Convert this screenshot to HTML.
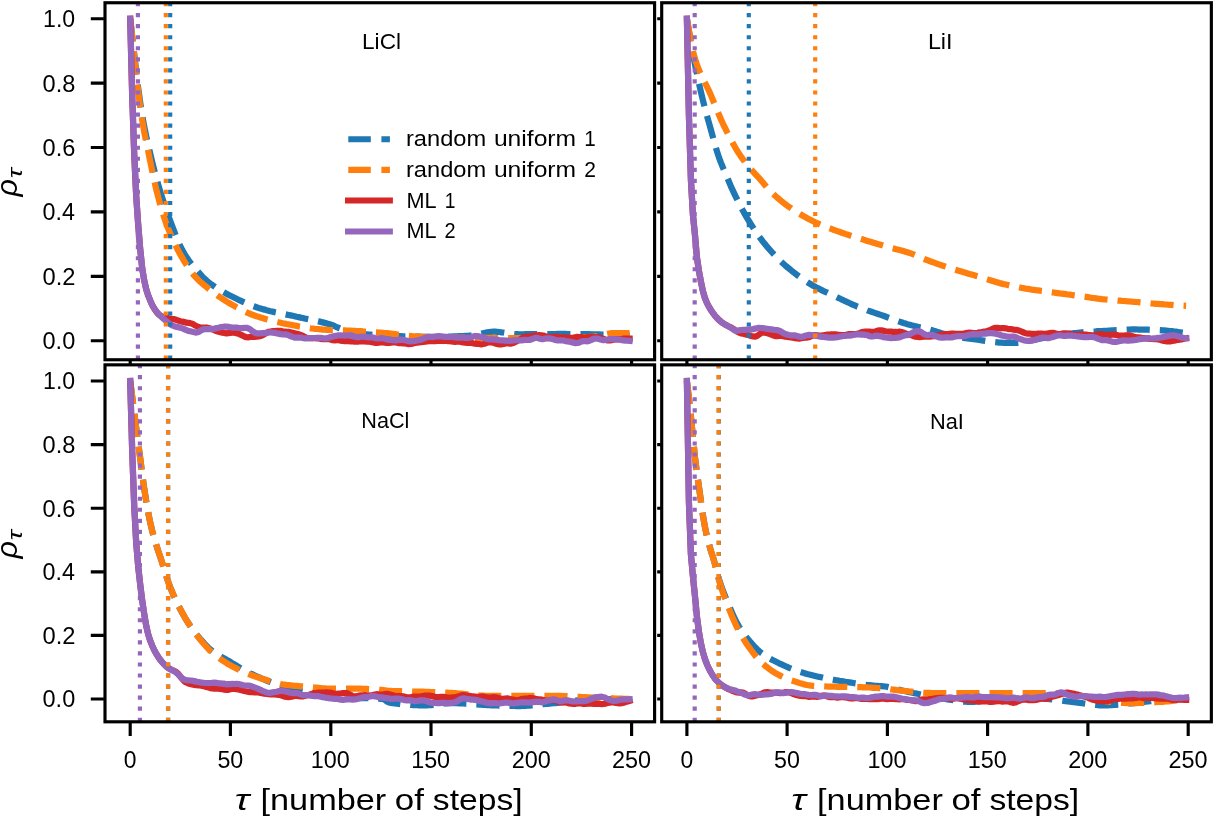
<!DOCTYPE html>
<html><head><meta charset="utf-8"><title>autocorrelation</title>
<style>html,body{margin:0;padding:0;background:#fff}svg{display:block}text{font-family:"Liberation Sans",sans-serif;fill:#000}</style></head><body>
<svg width="1214" height="817" viewBox="0 0 1214 817">
<rect x="0" y="0" width="1214" height="817" fill="#fff"/>
<defs>
<clipPath id="ctl"><rect x="105.0" y="2.75" width="549.6" height="357.0"/></clipPath>
<clipPath id="ctr"><rect x="661.7" y="2.75" width="549.6499999999999" height="357.0"/></clipPath>
<clipPath id="cbl"><rect x="105.0" y="364.85" width="549.6" height="356.94999999999993"/></clipPath>
<clipPath id="cbr"><rect x="661.7" y="364.85" width="549.6499999999999" height="356.94999999999993"/></clipPath>
</defs>
<g clip-path="url(#ctl)" fill="none">
<polyline points="130.2,18.7 132.2,36.5 134.2,53.9 136.2,71.4 138.2,88.1 140.2,102.5 142.2,115.3 144.2,126.5 146.2,136.1 148.2,144.9 150.2,153.5 152.2,161.9 154.2,169.9 156.2,177.5 158.2,184.6 160.2,191.3 162.2,197.7 164.3,203.8 166.3,209.8 168.3,215.6 170.3,221.0 172.3,226.3 174.3,231.6 176.3,236.7 178.3,241.6 180.3,246.1 182.3,250.1 184.3,253.6 186.3,256.8 188.3,259.8 190.3,262.5 192.3,265.1 194.3,267.5 196.3,269.9 198.4,272.2 200.4,274.4 202.4,276.6 204.4,278.6 206.4,280.4 208.4,282.1 210.4,283.7 212.4,285.1 214.4,286.5 216.4,287.9 218.4,289.1 220.4,290.4 222.4,291.5 224.4,292.6 226.4,293.7 228.4,294.8 230.4,295.8 232.5,296.8 234.5,297.8 236.5,298.8 238.5,299.8 240.5,300.7 242.5,301.6 244.5,302.5 246.5,303.4 248.5,304.2 250.5,305.0 252.5,305.8 254.5,306.5 256.5,307.2 258.5,307.9 260.5,308.5 262.5,309.1 264.6,309.6 266.6,310.2 268.6,310.7 270.6,311.2 272.6,311.6 274.6,312.1 276.6,312.5 278.6,313.0 280.6,313.4 282.6,313.8 284.6,314.2 286.6,314.6 288.6,315.0 290.6,315.4 292.6,315.8 294.6,316.2 296.6,316.7 298.7,317.1 300.7,317.6 302.7,318.0 304.7,318.5 306.7,318.9 308.7,319.3 310.7,319.7 312.7,320.1 314.7,320.5 316.7,321.0 318.7,321.4 320.7,321.9 322.7,322.4 324.7,322.9 326.7,323.4 328.7,324.0 330.8,324.6 332.8,325.3 334.8,326.2 336.8,327.2 338.8,328.0 340.8,328.8 342.8,329.4 344.8,330.0 346.8,330.6 348.8,331.2 350.8,331.7 352.8,332.2 354.8,332.6 356.8,333.0 358.8,333.3 360.8,333.6 362.8,333.8 364.9,334.1 366.9,334.3 368.9,334.5 370.9,334.6 372.9,334.8 374.9,335.0 376.9,335.1 378.9,335.3 380.9,335.4 382.9,335.5 384.9,335.6 386.9,335.7 388.9,335.8 390.9,335.9 392.9,335.9 394.9,336.0 396.9,336.1 399.0,336.2 401.0,336.2 403.0,336.3 405.0,336.4 407.0,336.4 409.0,336.5 411.0,336.5 413.0,336.6 415.0,336.6 417.0,336.7 419.0,336.7 421.0,336.8 423.0,336.8 425.0,336.8 427.0,336.8 429.0,336.8 431.0,336.8 433.1,336.8 435.1,336.8 437.1,336.8 439.1,336.8 441.1,336.7 443.1,336.7 445.1,336.7 447.1,336.6 449.1,336.5 451.1,336.5 453.1,336.4 455.1,336.3 457.1,336.3 459.1,336.2 461.1,336.1 463.1,336.0 465.2,335.9 467.2,335.8 469.2,335.7 471.2,335.5 473.2,335.4 475.2,335.1 477.2,334.7 479.2,334.2 481.2,333.7 483.2,333.2 485.2,332.7 487.2,332.3 489.2,332.0 491.2,331.8 493.2,331.7 495.2,331.7 497.2,331.8 499.3,332.0 501.3,332.3 503.3,332.5 505.3,332.8 507.3,333.1 509.3,333.4 511.3,333.7 513.3,333.9 515.3,334.1 517.3,334.2 519.3,334.3 521.3,334.3 523.3,334.3 525.3,334.2 527.3,334.2 529.3,334.2 531.3,334.2 533.4,334.2 535.4,334.2 537.4,334.1 539.4,334.1 541.4,334.1 543.4,334.1 545.4,334.0 547.4,334.0 549.4,334.0 551.4,334.0 553.4,334.0 555.4,334.0 557.4,333.9 559.4,333.9 561.4,333.9 563.4,333.9 565.5,333.9 567.5,334.0 569.5,334.0 571.5,334.0 573.5,334.0 575.5,334.0 577.5,334.0 579.5,334.1 581.5,334.1 583.5,334.1 585.5,334.2 587.5,334.2 589.5,334.2 591.5,334.3 593.5,334.3 595.5,334.3 597.5,334.4 599.6,334.4 601.6,334.5 603.6,334.6 605.6,334.6 607.6,334.7 609.6,334.8 611.6,334.9 613.6,334.9 615.6,335.0 617.6,335.1 619.6,335.2 621.6,335.3 623.6,335.4 625.6,335.5 627.6,335.6 629.6,335.8" stroke="#1f77b4" stroke-width="6.25" stroke-dasharray="23.125 10" stroke-linejoin="round"/>
<polyline points="130.2,18.7 132.2,37.3 134.2,55.6 136.2,74.1 138.2,91.8 140.2,106.8 142.2,120.1 144.2,131.8 146.2,142.0 148.2,151.4 150.2,161.1 152.2,170.9 154.2,180.4 156.2,189.2 158.2,197.1 160.2,204.6 162.2,211.6 164.3,218.0 166.3,223.7 168.3,228.9 170.3,233.8 172.3,238.4 174.3,242.7 176.3,246.8 178.3,250.7 180.3,254.4 182.3,257.9 184.3,261.3 186.3,264.5 188.3,267.6 190.3,270.5 192.3,273.2 194.3,275.7 196.3,277.9 198.4,280.0 200.4,281.9 202.4,283.6 204.4,285.3 206.4,286.9 208.4,288.5 210.4,290.1 212.4,291.7 214.4,293.2 216.4,294.7 218.4,296.1 220.4,297.5 222.4,298.8 224.4,300.1 226.4,301.4 228.4,302.6 230.4,303.8 232.5,304.9 234.5,306.1 236.5,307.2 238.5,308.3 240.5,309.4 242.5,310.4 244.5,311.4 246.5,312.3 248.5,313.2 250.5,314.0 252.5,314.8 254.5,315.5 256.5,316.2 258.5,316.8 260.5,317.5 262.5,318.1 264.6,318.7 266.6,319.3 268.6,319.8 270.6,320.3 272.6,320.9 274.6,321.4 276.6,321.8 278.6,322.3 280.6,322.7 282.6,323.2 284.6,323.6 286.6,324.0 288.6,324.3 290.6,324.7 292.6,325.1 294.6,325.5 296.6,325.9 298.7,326.3 300.7,326.6 302.7,327.0 304.7,327.3 306.7,327.6 308.7,328.0 310.7,328.3 312.7,328.5 314.7,328.8 316.7,329.0 318.7,329.2 320.7,329.4 322.7,329.6 324.7,329.7 326.7,329.8 328.7,329.9 330.8,330.0 332.8,330.0 334.8,330.1 336.8,330.1 338.8,330.2 340.8,330.3 342.8,330.3 344.8,330.4 346.8,330.5 348.8,330.6 350.8,330.7 352.8,330.8 354.8,330.9 356.8,331.0 358.8,331.1 360.8,331.2 362.8,331.4 364.9,331.5 366.9,331.6 368.9,331.8 370.9,331.9 372.9,332.0 374.9,332.2 376.9,332.3 378.9,332.5 380.9,332.6 382.9,332.8 384.9,333.0 386.9,333.2 388.9,333.4 390.9,333.6 392.9,333.8 394.9,334.1 396.9,334.4 399.0,334.6 401.0,334.9 403.0,335.2 405.0,335.4 407.0,335.7 409.0,335.9 411.0,336.1 413.0,336.3 415.0,336.4 417.0,336.5 419.0,336.6 421.0,336.7 423.0,336.8 425.0,336.8 427.0,336.9 429.0,337.0 431.0,337.0 433.1,337.1 435.1,337.2 437.1,337.2 439.1,337.3 441.1,337.3 443.1,337.3 445.1,337.4 447.1,337.4 449.1,337.5 451.1,337.5 453.1,337.5 455.1,337.5 457.1,337.6 459.1,337.6 461.1,337.6 463.1,337.6 465.2,337.7 467.2,337.7 469.2,337.7 471.2,337.7 473.2,337.8 475.2,337.8 477.2,337.8 479.2,337.8 481.2,337.8 483.2,337.9 485.2,337.9 487.2,337.9 489.2,337.9 491.2,337.9 493.2,338.0 495.2,338.0 497.2,338.0 499.3,338.0 501.3,338.0 503.3,338.0 505.3,338.0 507.3,338.1 509.3,338.1 511.3,338.1 513.3,338.1 515.3,338.1 517.3,338.1 519.3,338.1 521.3,338.1 523.3,338.1 525.3,338.1 527.3,338.1 529.3,338.1 531.3,338.1 533.4,338.1 535.4,338.1 537.4,338.1 539.4,338.1 541.4,338.1 543.4,338.1 545.4,338.1 547.4,338.0 549.4,338.0 551.4,338.0 553.4,337.9 555.4,337.9 557.4,337.9 559.4,337.8 561.4,337.8 563.4,337.8 565.5,337.7 567.5,337.7 569.5,337.6 571.5,337.5 573.5,337.5 575.5,337.4 577.5,337.4 579.5,337.3 581.5,337.2 583.5,337.2 585.5,337.1 587.5,337.0 589.5,336.9 591.5,336.8 593.5,336.7 595.5,336.4 597.5,336.1 599.6,335.7 601.6,335.2 603.6,334.8 605.6,334.3 607.6,333.9 609.6,333.5 611.6,333.2 613.6,333.0 615.6,333.0 617.6,333.0 619.6,333.0 621.6,333.0 623.6,333.0 625.6,333.0 627.6,333.0 629.6,333.0" stroke="#ff7f0e" stroke-width="6.25" stroke-dasharray="23.125 10" stroke-linejoin="round"/>
<polyline points="130.2,18.7 132.2,96.0 134.2,153.9 136.2,195.8 138.2,224.8 140.2,248.9 142.2,268.2 144.2,280.4 146.2,289.2 148.2,295.5 150.2,300.4 152.2,304.9 154.2,308.5 156.2,311.5 158.2,314.0 160.2,315.6 162.2,316.4 164.3,317.0 166.3,317.5 168.3,318.2 170.3,318.6 172.3,319.0 174.3,319.2 176.3,319.8 178.3,320.6 180.3,321.2 182.3,321.6 184.3,322.1 186.3,322.7 188.3,322.9 190.3,323.2 192.3,323.7 194.3,324.9 196.3,326.0 198.4,327.0 200.4,327.6 202.4,327.6 204.4,327.6 206.4,327.5 208.4,328.0 210.4,328.7 212.4,329.4 214.4,330.2 216.4,331.1 218.4,331.7 220.4,332.1 222.4,332.6 224.4,333.0 226.4,333.4 228.4,333.2 230.4,332.8 232.5,332.6 234.5,332.6 236.5,333.1 238.5,333.6 240.5,334.7 242.5,335.5 244.5,336.6 246.5,337.1 248.5,337.3 250.5,336.9 252.5,336.7 254.5,336.8 256.5,336.7 258.5,336.5 260.5,336.0 262.5,335.3 264.6,334.1 266.6,332.9 268.6,331.9 270.6,331.5 272.6,331.2 274.6,331.2 276.6,330.8 278.6,330.9 280.6,330.9 282.6,331.3 284.6,331.5 286.6,331.9 288.6,331.9 290.6,332.3 292.6,332.7 294.6,333.3 296.6,333.8 298.7,334.3 300.7,334.9 302.7,335.8 304.7,336.9 306.7,337.8 308.7,338.0 310.7,338.0 312.7,338.0 314.7,338.2 316.7,338.3 318.7,338.5 320.7,338.8 322.7,339.1 324.7,339.2 326.7,339.1 328.7,339.1 330.8,339.5 332.8,340.2 334.8,340.4 336.8,340.2 338.8,340.2 340.8,340.6 342.8,341.0 344.8,341.2 346.8,341.1 348.8,341.2 350.8,341.4 352.8,341.5 354.8,341.6 356.8,341.5 358.8,341.5 360.8,341.3 362.8,341.4 364.9,341.4 366.9,341.7 368.9,341.7 370.9,342.0 372.9,342.3 374.9,342.8 376.9,342.9 378.9,342.7 380.9,342.4 382.9,342.4 384.9,342.7 386.9,343.0 388.9,342.9 390.9,342.6 392.9,342.2 394.9,342.3 396.9,342.7 399.0,343.1 401.0,343.2 403.0,343.3 405.0,343.4 407.0,343.8 409.0,344.1 411.0,344.0 413.0,343.4 415.0,343.0 417.0,342.6 419.0,342.5 421.0,342.2 423.0,342.0 425.0,341.6 427.0,341.4 429.0,341.2 431.0,341.2 433.1,341.1 435.1,341.1 437.1,340.8 439.1,340.8 441.1,340.7 443.1,341.0 445.1,340.9 447.1,341.0 449.1,341.0 451.1,341.3 453.1,341.7 455.1,341.8 457.1,341.7 459.1,341.6 461.1,341.9 463.1,342.4 465.2,342.6 467.2,342.8 469.2,342.7 471.2,342.9 473.2,343.3 475.2,343.6 477.2,343.9 479.2,344.0 481.2,344.3 483.2,344.0 485.2,343.5 487.2,342.7 489.2,342.3 491.2,342.3 493.2,342.7 495.2,343.4 497.2,344.0 499.3,344.4 501.3,344.3 503.3,344.0 505.3,343.4 507.3,343.3 509.3,343.5 511.3,343.5 513.3,343.0 515.3,342.0 517.3,340.9 519.3,339.7 521.3,338.7 523.3,337.5 525.3,336.8 527.3,336.5 529.3,336.5 531.3,336.2 533.4,335.9 535.4,335.7 537.4,335.4 539.4,335.2 541.4,335.3 543.4,335.6 545.4,336.2 547.4,336.7 549.4,337.0 551.4,337.1 553.4,336.8 555.4,336.9 557.4,336.9 559.4,337.3 561.4,337.3 563.4,337.3 565.5,337.4 567.5,337.6 569.5,337.8 571.5,337.9 573.5,337.7 575.5,337.4 577.5,336.8 579.5,337.0 581.5,337.1 583.5,337.7 585.5,337.5 587.5,337.2 589.5,336.8 591.5,336.8 593.5,337.1 595.5,337.2 597.5,337.3 599.6,337.4 601.6,338.1 603.6,338.9 605.6,339.8 607.6,340.4 609.6,340.5 611.6,340.2 613.6,339.6 615.6,339.5 617.6,339.4 619.6,339.4 621.6,339.0 623.6,338.7 625.6,338.5 627.6,338.6 629.6,338.6" stroke="#d62728" stroke-width="6.25" stroke-linecap="square" stroke-linejoin="round"/>
<polyline points="130.2,18.7 132.2,96.0 134.2,153.9 136.2,195.8 138.2,224.8 140.2,248.9 142.2,268.2 144.2,280.4 146.2,289.2 148.2,295.5 150.2,300.4 152.2,304.9 154.2,308.5 156.2,311.2 158.2,313.5 160.2,315.6 162.2,317.7 164.3,319.5 166.3,321.2 168.3,322.8 170.3,324.3 172.3,325.4 174.3,326.2 176.3,326.9 178.3,327.2 180.3,327.8 182.3,328.2 184.3,329.3 186.3,330.0 188.3,330.9 190.3,331.3 192.3,331.8 194.3,332.2 196.3,332.6 198.4,332.0 200.4,330.8 202.4,329.6 204.4,329.1 206.4,329.1 208.4,329.0 210.4,329.1 212.4,328.8 214.4,328.7 216.4,328.1 218.4,327.7 220.4,327.2 222.4,327.0 224.4,326.7 226.4,326.7 228.4,326.8 230.4,327.2 232.5,327.6 234.5,327.7 236.5,327.7 238.5,327.9 240.5,328.0 242.5,328.1 244.5,327.8 246.5,327.8 248.5,328.5 250.5,329.6 252.5,331.3 254.5,332.5 256.5,333.3 258.5,333.3 260.5,333.4 262.5,333.2 264.6,333.1 266.6,332.7 268.6,332.5 270.6,332.4 272.6,332.6 274.6,332.9 276.6,333.3 278.6,333.6 280.6,334.1 282.6,334.3 284.6,334.4 286.6,334.6 288.6,335.2 290.6,336.2 292.6,336.9 294.6,337.6 296.6,337.6 298.7,337.5 300.7,337.5 302.7,338.0 304.7,338.3 306.7,338.3 308.7,338.1 310.7,338.0 312.7,338.1 314.7,338.0 316.7,337.9 318.7,337.8 320.7,337.9 322.7,338.2 324.7,338.4 326.7,338.3 328.7,337.7 330.8,337.0 332.8,336.5 334.8,336.0 336.8,335.7 338.8,335.3 340.8,335.4 342.8,335.5 344.8,335.7 346.8,335.5 348.8,335.3 350.8,335.3 352.8,335.9 354.8,336.8 356.8,337.2 358.8,337.1 360.8,336.6 362.8,336.6 364.9,336.9 366.9,337.2 368.9,337.3 370.9,337.3 372.9,337.5 374.9,338.0 376.9,338.4 378.9,338.3 380.9,338.1 382.9,338.2 384.9,338.8 386.9,339.4 388.9,339.8 390.9,339.9 392.9,340.2 394.9,340.3 396.9,340.3 399.0,339.9 401.0,339.7 403.0,339.8 405.0,340.2 407.0,340.7 409.0,341.2 411.0,341.3 413.0,341.2 415.0,340.9 417.0,340.5 419.0,340.0 421.0,339.6 423.0,338.8 425.0,337.9 427.0,337.2 429.0,336.8 431.0,337.0 433.1,337.0 435.1,336.7 437.1,336.3 439.1,336.2 441.1,336.4 443.1,336.6 445.1,336.9 447.1,336.9 449.1,336.9 451.1,337.0 453.1,337.1 455.1,337.5 457.1,337.6 459.1,337.6 461.1,337.6 463.1,337.5 465.2,337.8 467.2,337.7 469.2,337.8 471.2,337.2 473.2,336.6 475.2,336.0 477.2,336.2 479.2,336.4 481.2,337.0 483.2,337.4 485.2,338.4 487.2,339.0 489.2,339.4 491.2,339.4 493.2,339.3 495.2,339.6 497.2,339.9 499.3,340.2 501.3,340.4 503.3,340.4 505.3,340.6 507.3,340.6 509.3,340.9 511.3,340.7 513.3,340.4 515.3,340.1 517.3,340.2 519.3,340.4 521.3,340.4 523.3,340.1 525.3,339.9 527.3,340.0 529.3,339.9 531.3,339.4 533.4,338.6 535.4,337.9 537.4,337.9 539.4,338.6 541.4,339.0 543.4,339.0 545.4,338.5 547.4,338.3 549.4,338.3 551.4,338.7 553.4,339.3 555.4,340.0 557.4,340.4 559.4,340.4 561.4,340.4 563.4,340.5 565.5,341.1 567.5,341.4 569.5,341.7 571.5,342.1 573.5,342.6 575.5,343.1 577.5,343.0 579.5,342.4 581.5,341.5 583.5,341.1 585.5,341.2 587.5,341.3 589.5,340.7 591.5,339.9 593.5,338.9 595.5,338.5 597.5,338.6 599.6,339.3 601.6,339.8 603.6,340.1 605.6,339.8 607.6,339.5 609.6,339.1 611.6,339.1 613.6,339.2 615.6,339.3 617.6,339.4 619.6,339.5 621.6,340.1 623.6,340.3 625.6,340.6 627.6,340.6 629.6,340.8" stroke="#9467bd" stroke-width="6.25" stroke-linecap="square" stroke-linejoin="round"/>
<line x1="170.2" y1="359.75" x2="170.2" y2="2.75" stroke="#1f77b4" stroke-width="4.17" stroke-dasharray="4.17 6.88"/>
<line x1="165.8" y1="359.75" x2="165.8" y2="2.75" stroke="#ff7f0e" stroke-width="4.17" stroke-dasharray="4.17 6.88"/>
<line x1="137.9" y1="359.75" x2="137.9" y2="2.75" stroke="#9467bd" stroke-width="4.17" stroke-dasharray="4.17 6.88"/>
</g>
<g clip-path="url(#ctr)" fill="none">
<polyline points="686.9,18.7 688.9,30.8 690.9,42.4 692.9,53.4 694.9,63.8 696.9,73.7 698.9,83.1 700.9,91.9 702.9,100.3 704.9,108.1 706.9,115.6 709.0,123.0 711.0,130.2 713.0,137.5 715.0,144.7 717.0,151.4 719.0,157.6 721.0,162.9 723.0,167.8 725.0,172.4 727.0,177.0 729.0,181.8 731.0,186.6 733.0,190.9 735.0,195.1 737.0,199.2 739.0,203.2 741.0,207.1 743.0,210.8 745.0,214.4 747.0,217.9 749.1,221.2 751.1,224.5 753.1,227.6 755.1,230.7 757.1,233.6 759.1,236.5 761.1,239.2 763.1,241.8 765.1,244.3 767.1,246.7 769.1,249.0 771.1,251.3 773.1,253.5 775.1,255.6 777.1,257.7 779.1,259.7 781.1,261.6 783.1,263.5 785.1,265.3 787.1,267.0 789.2,268.7 791.2,270.4 793.2,272.0 795.2,273.5 797.2,275.1 799.2,276.5 801.2,278.0 803.2,279.4 805.2,280.7 807.2,282.0 809.2,283.3 811.2,284.5 813.2,285.7 815.2,286.8 817.2,287.9 819.2,288.9 821.2,289.9 823.2,290.9 825.2,291.8 827.2,292.7 829.3,293.7 831.3,294.6 833.3,295.5 835.3,296.4 837.3,297.4 839.3,298.3 841.3,299.3 843.3,300.2 845.3,301.2 847.3,302.1 849.3,303.0 851.3,304.0 853.3,304.8 855.3,305.7 857.3,306.6 859.3,307.4 861.3,308.2 863.3,308.9 865.3,309.6 867.3,310.4 869.4,311.1 871.4,311.7 873.4,312.4 875.4,313.1 877.4,313.8 879.4,314.4 881.4,315.1 883.4,315.8 885.4,316.5 887.4,317.3 889.4,318.0 891.4,318.7 893.4,319.5 895.4,320.2 897.4,320.9 899.4,321.6 901.4,322.3 903.4,323.0 905.4,323.6 907.4,324.2 909.5,324.7 911.5,325.3 913.5,325.7 915.5,326.2 917.5,326.7 919.5,327.2 921.5,327.6 923.5,328.1 925.5,328.5 927.5,329.0 929.5,329.5 931.5,330.1 933.5,330.7 935.5,331.3 937.5,331.9 939.5,332.5 941.5,333.2 943.5,333.8 945.5,334.4 947.5,334.9 949.6,335.4 951.6,335.9 953.6,336.3 955.6,336.6 957.6,337.0 959.6,337.3 961.6,337.6 963.6,337.9 965.6,338.2 967.6,338.4 969.6,338.7 971.6,339.0 973.6,339.2 975.6,339.5 977.6,339.7 979.6,340.0 981.6,340.3 983.6,340.6 985.6,340.9 987.6,341.2 989.7,341.5 991.7,341.8 993.7,342.0 995.7,342.2 997.7,342.4 999.7,342.6 1001.7,342.7 1003.7,342.8 1005.7,342.8 1007.7,342.9 1009.7,342.9 1011.7,342.9 1013.7,342.9 1015.7,343.0 1017.7,342.9 1019.7,342.7 1021.7,342.5 1023.7,342.1 1025.7,341.7 1027.8,341.2 1029.8,340.7 1031.8,340.3 1033.8,339.8 1035.8,339.5 1037.8,339.1 1039.8,338.7 1041.8,338.3 1043.8,337.9 1045.8,337.5 1047.8,337.2 1049.8,336.8 1051.8,336.4 1053.8,336.1 1055.8,335.8 1057.8,335.5 1059.8,335.2 1061.8,334.9 1063.8,334.6 1065.8,334.3 1067.8,334.0 1069.9,333.7 1071.9,333.5 1073.9,333.2 1075.9,333.0 1077.9,332.8 1079.9,332.6 1081.9,332.4 1083.9,332.2 1085.9,332.1 1087.9,331.9 1089.9,331.8 1091.9,331.6 1093.9,331.5 1095.9,331.4 1097.9,331.2 1099.9,331.1 1101.9,331.0 1103.9,330.9 1105.9,330.8 1107.9,330.7 1110.0,330.5 1112.0,330.4 1114.0,330.3 1116.0,330.1 1118.0,330.0 1120.0,329.9 1122.0,329.8 1124.0,329.7 1126.0,329.6 1128.0,329.5 1130.0,329.5 1132.0,329.4 1134.0,329.4 1136.0,329.4 1138.0,329.5 1140.0,329.5 1142.0,329.5 1144.0,329.6 1146.0,329.6 1148.0,329.7 1150.1,329.8 1152.1,329.8 1154.1,329.9 1156.1,330.0 1158.1,330.0 1160.1,330.1 1162.1,330.3 1164.1,330.4 1166.1,330.6 1168.1,330.8 1170.1,331.0 1172.1,331.2 1174.1,331.5 1176.1,331.7 1178.1,332.0 1180.1,332.3 1182.1,332.6 1184.1,332.9 1186.1,333.3" stroke="#1f77b4" stroke-width="6.25" stroke-dasharray="23.125 10" stroke-linejoin="round"/>
<polyline points="686.9,18.7 688.9,30.5 690.9,41.5 692.9,51.1 694.9,58.6 696.9,64.6 698.9,69.8 700.9,74.4 702.9,78.6 704.9,82.6 706.9,86.6 709.0,90.8 711.0,95.4 713.0,100.3 715.0,105.2 717.0,110.1 719.0,114.8 721.0,119.4 723.0,123.8 725.0,127.9 727.0,132.0 729.0,136.0 731.0,139.8 733.0,143.5 735.0,147.1 737.0,150.5 739.0,153.6 741.0,156.6 743.0,159.3 745.0,162.0 747.0,164.5 749.1,166.9 751.1,169.3 753.1,171.7 755.1,173.9 757.1,176.0 759.1,178.2 761.1,180.4 763.1,182.8 765.1,185.3 767.1,187.7 769.1,189.9 771.1,191.9 773.1,193.8 775.1,195.7 777.1,197.5 779.1,199.2 781.1,200.9 783.1,202.5 785.1,204.0 787.1,205.6 789.2,207.0 791.2,208.4 793.2,209.8 795.2,211.1 797.2,212.4 799.2,213.6 801.2,214.8 803.2,216.0 805.2,217.1 807.2,218.2 809.2,219.3 811.2,220.3 813.2,221.3 815.2,222.3 817.2,223.2 819.2,224.1 821.2,225.0 823.2,225.8 825.2,226.6 827.2,227.4 829.3,228.2 831.3,228.9 833.3,229.7 835.3,230.4 837.3,231.1 839.3,231.8 841.3,232.5 843.3,233.2 845.3,233.9 847.3,234.6 849.3,235.2 851.3,235.9 853.3,236.5 855.3,237.1 857.3,237.8 859.3,238.4 861.3,239.0 863.3,239.6 865.3,240.3 867.3,240.9 869.4,241.5 871.4,242.1 873.4,242.7 875.4,243.3 877.4,243.9 879.4,244.5 881.4,245.1 883.4,245.7 885.4,246.3 887.4,246.9 889.4,247.4 891.4,247.9 893.4,248.4 895.4,249.0 897.4,249.5 899.4,250.0 901.4,250.5 903.4,251.1 905.4,251.7 907.4,252.3 909.5,252.9 911.5,253.6 913.5,254.4 915.5,255.3 917.5,256.1 919.5,257.0 921.5,257.9 923.5,258.7 925.5,259.5 927.5,260.2 929.5,261.0 931.5,261.7 933.5,262.4 935.5,263.2 937.5,263.9 939.5,264.6 941.5,265.3 943.5,265.9 945.5,266.6 947.5,267.3 949.6,267.9 951.6,268.6 953.6,269.2 955.6,269.8 957.6,270.4 959.6,271.0 961.6,271.6 963.6,272.2 965.6,272.8 967.6,273.4 969.6,274.0 971.6,274.5 973.6,275.1 975.6,275.7 977.6,276.3 979.6,276.9 981.6,277.5 983.6,278.2 985.6,278.8 987.6,279.4 989.7,280.1 991.7,280.7 993.7,281.3 995.7,281.9 997.7,282.5 999.7,283.1 1001.7,283.6 1003.7,284.1 1005.7,284.5 1007.7,285.0 1009.7,285.5 1011.7,285.9 1013.7,286.3 1015.7,286.7 1017.7,287.1 1019.7,287.5 1021.7,287.9 1023.7,288.2 1025.7,288.6 1027.8,288.9 1029.8,289.2 1031.8,289.6 1033.8,289.9 1035.8,290.2 1037.8,290.4 1039.8,290.7 1041.8,291.0 1043.8,291.2 1045.8,291.5 1047.8,291.7 1049.8,292.0 1051.8,292.3 1053.8,292.5 1055.8,292.8 1057.8,293.1 1059.8,293.4 1061.8,293.6 1063.8,293.9 1065.8,294.2 1067.8,294.5 1069.9,294.7 1071.9,295.0 1073.9,295.3 1075.9,295.6 1077.9,295.8 1079.9,296.1 1081.9,296.4 1083.9,296.6 1085.9,296.9 1087.9,297.2 1089.9,297.5 1091.9,297.8 1093.9,298.0 1095.9,298.3 1097.9,298.6 1099.9,298.8 1101.9,299.1 1103.9,299.3 1105.9,299.5 1107.9,299.7 1110.0,299.9 1112.0,300.1 1114.0,300.3 1116.0,300.4 1118.0,300.6 1120.0,300.7 1122.0,300.9 1124.0,301.0 1126.0,301.2 1128.0,301.3 1130.0,301.5 1132.0,301.7 1134.0,301.8 1136.0,302.0 1138.0,302.2 1140.0,302.4 1142.0,302.6 1144.0,302.7 1146.0,302.9 1148.0,303.1 1150.1,303.3 1152.1,303.5 1154.1,303.6 1156.1,303.8 1158.1,303.9 1160.1,304.1 1162.1,304.2 1164.1,304.4 1166.1,304.5 1168.1,304.7 1170.1,304.8 1172.1,304.9 1174.1,305.1 1176.1,305.2 1178.1,305.3 1180.1,305.5 1182.1,305.6 1184.1,305.7 1186.1,305.8" stroke="#ff7f0e" stroke-width="6.25" stroke-dasharray="23.125 10" stroke-linejoin="round"/>
<polyline points="686.9,18.7 688.9,115.3 690.9,179.5 692.9,214.4 694.9,234.4 696.9,257.3 698.9,270.8 700.9,281.6 702.9,291.2 704.9,298.0 706.9,302.9 709.0,306.9 711.0,310.2 713.0,313.1 715.0,315.7 717.0,318.0 719.0,320.0 721.0,321.7 723.0,323.2 725.0,324.5 727.0,325.5 729.0,326.5 731.0,327.4 733.0,328.6 735.0,330.0 737.0,331.5 739.0,332.6 741.0,333.3 743.0,333.6 745.0,334.2 747.0,334.8 749.1,335.3 751.1,336.0 753.1,336.3 755.1,336.7 757.1,335.8 759.1,334.5 761.1,333.0 763.1,332.4 765.1,332.7 767.1,333.1 769.1,333.8 771.1,334.4 773.1,335.4 775.1,336.1 777.1,336.2 779.1,335.9 781.1,335.8 783.1,336.2 785.1,336.7 787.1,336.8 789.2,337.1 791.2,337.4 793.2,337.8 795.2,338.2 797.2,338.5 799.2,338.6 801.2,338.2 803.2,337.8 805.2,337.5 807.2,337.5 809.2,337.1 811.2,336.2 813.2,335.3 815.2,335.1 817.2,335.3 819.2,335.6 821.2,335.6 823.2,335.3 825.2,335.0 827.2,334.7 829.3,334.6 831.3,334.4 833.3,334.3 835.3,334.3 837.3,334.6 839.3,334.8 841.3,335.1 843.3,335.2 845.3,335.1 847.3,334.6 849.3,334.1 851.3,334.0 853.3,334.2 855.3,334.1 857.3,333.8 859.3,333.1 861.3,332.3 863.3,331.8 865.3,331.7 867.3,331.7 869.4,331.7 871.4,331.8 873.4,331.8 875.4,331.5 877.4,330.8 879.4,330.3 881.4,330.4 883.4,330.9 885.4,331.4 887.4,331.5 889.4,331.5 891.4,331.6 893.4,332.0 895.4,331.9 897.4,332.0 899.4,331.7 901.4,332.0 903.4,332.5 905.4,333.5 907.4,334.2 909.5,334.7 911.5,335.2 913.5,336.0 915.5,336.7 917.5,337.0 919.5,337.1 921.5,336.9 923.5,336.7 925.5,336.5 927.5,336.6 929.5,336.6 931.5,336.4 933.5,336.1 935.5,335.9 937.5,335.6 939.5,335.1 941.5,334.6 943.5,334.3 945.5,334.1 947.5,334.1 949.6,333.9 951.6,333.7 953.6,333.7 955.6,333.8 957.6,333.9 959.6,333.9 961.6,333.8 963.6,333.7 965.6,333.2 967.6,332.9 969.6,332.7 971.6,332.9 973.6,333.1 975.6,333.1 977.6,332.8 979.6,332.4 981.6,332.1 983.6,331.7 985.6,331.5 987.6,330.9 989.7,330.4 991.7,329.4 993.7,328.4 995.7,327.9 997.7,327.9 999.7,328.3 1001.7,328.2 1003.7,328.2 1005.7,328.4 1007.7,328.8 1009.7,329.1 1011.7,329.2 1013.7,329.6 1015.7,329.9 1017.7,330.2 1019.7,330.8 1021.7,331.6 1023.7,332.6 1025.7,333.2 1027.8,333.7 1029.8,333.7 1031.8,333.8 1033.8,333.8 1035.8,334.0 1037.8,333.7 1039.8,333.6 1041.8,333.6 1043.8,333.8 1045.8,333.7 1047.8,333.5 1049.8,333.1 1051.8,332.9 1053.8,332.9 1055.8,333.5 1057.8,334.0 1059.8,334.2 1061.8,333.7 1063.8,333.4 1065.8,333.3 1067.8,333.6 1069.9,333.9 1071.9,334.4 1073.9,334.7 1075.9,334.9 1077.9,334.7 1079.9,334.7 1081.9,334.3 1083.9,334.5 1085.9,334.5 1087.9,335.0 1089.9,335.1 1091.9,335.4 1093.9,335.3 1095.9,335.0 1097.9,334.4 1099.9,334.2 1101.9,334.3 1103.9,334.7 1105.9,335.0 1107.9,335.1 1110.0,334.9 1112.0,334.7 1114.0,334.7 1116.0,334.9 1118.0,335.3 1120.0,335.5 1122.0,335.5 1124.0,335.5 1126.0,335.3 1128.0,335.3 1130.0,335.4 1132.0,336.1 1134.0,336.8 1136.0,337.3 1138.0,337.4 1140.0,337.6 1142.0,337.9 1144.0,338.1 1146.0,338.4 1148.0,338.6 1150.1,338.9 1152.1,339.0 1154.1,339.2 1156.1,339.2 1158.1,339.4 1160.1,339.8 1162.1,340.4 1164.1,340.9 1166.1,341.3 1168.1,341.4 1170.1,341.4 1172.1,340.8 1174.1,340.6 1176.1,340.1 1178.1,340.0 1180.1,339.4 1182.1,339.3 1184.1,338.8 1186.1,338.4" stroke="#d62728" stroke-width="6.25" stroke-linecap="square" stroke-linejoin="round"/>
<polyline points="686.9,18.7 688.9,115.3 690.9,179.5 692.9,214.4 694.9,234.4 696.9,257.3 698.9,270.8 700.9,281.6 702.9,291.2 704.9,298.0 706.9,302.9 709.0,306.9 711.0,310.2 713.0,313.1 715.0,315.7 717.0,318.0 719.0,320.0 721.0,321.7 723.0,323.2 725.0,324.5 727.0,325.6 729.0,326.7 731.0,327.9 733.0,329.3 735.0,330.5 737.0,330.8 739.0,330.4 741.0,330.0 743.0,329.9 745.0,329.9 747.0,329.6 749.1,329.6 751.1,329.3 753.1,329.1 755.1,328.6 757.1,328.2 759.1,327.9 761.1,328.0 763.1,328.2 765.1,328.5 767.1,328.8 769.1,329.1 771.1,329.4 773.1,329.7 775.1,330.0 777.1,330.1 779.1,330.7 781.1,331.6 783.1,333.0 785.1,333.8 787.1,334.6 789.2,335.0 791.2,335.3 793.2,335.3 795.2,335.4 797.2,336.1 799.2,336.7 801.2,337.0 803.2,336.5 805.2,335.8 807.2,335.3 809.2,334.9 811.2,335.1 813.2,335.1 815.2,335.5 817.2,336.0 819.2,336.4 821.2,336.8 823.2,336.8 825.2,337.2 827.2,337.4 829.3,337.6 831.3,337.6 833.3,337.7 835.3,337.5 837.3,337.2 839.3,336.7 841.3,336.4 843.3,336.0 845.3,335.8 847.3,335.7 849.3,335.7 851.3,335.4 853.3,335.0 855.3,334.5 857.3,334.4 859.3,334.4 861.3,334.7 863.3,334.6 865.3,334.8 867.3,335.2 869.4,336.1 871.4,336.5 873.4,336.3 875.4,335.9 877.4,335.7 879.4,336.1 881.4,336.5 883.4,337.1 885.4,337.5 887.4,337.7 889.4,337.9 891.4,338.1 893.4,338.0 895.4,337.8 897.4,337.6 899.4,337.4 901.4,336.6 903.4,335.9 905.4,335.2 907.4,335.1 909.5,334.3 911.5,333.3 913.5,332.2 915.5,331.5 917.5,331.1 919.5,331.3 921.5,332.3 923.5,333.7 925.5,334.8 927.5,335.2 929.5,334.9 931.5,334.9 933.5,335.4 935.5,336.2 937.5,336.8 939.5,337.4 941.5,337.7 943.5,337.6 945.5,337.4 947.5,337.4 949.6,337.5 951.6,337.4 953.6,336.9 955.6,336.5 957.6,336.1 959.6,336.2 961.6,336.2 963.6,336.1 965.6,335.8 967.6,335.2 969.6,334.7 971.6,334.3 973.6,334.1 975.6,334.3 977.6,334.3 979.6,334.1 981.6,333.9 983.6,333.7 985.6,333.6 987.6,333.1 989.7,333.0 991.7,333.0 993.7,333.4 995.7,333.7 997.7,334.3 999.7,334.8 1001.7,335.5 1003.7,335.8 1005.7,336.2 1007.7,336.7 1009.7,336.8 1011.7,336.7 1013.7,336.6 1015.7,337.2 1017.7,338.1 1019.7,339.0 1021.7,339.6 1023.7,340.2 1025.7,340.7 1027.8,340.8 1029.8,340.8 1031.8,340.7 1033.8,340.1 1035.8,339.6 1037.8,338.9 1039.8,338.3 1041.8,337.7 1043.8,337.7 1045.8,337.9 1047.8,338.1 1049.8,337.8 1051.8,337.3 1053.8,336.7 1055.8,336.1 1057.8,335.5 1059.8,335.4 1061.8,335.5 1063.8,335.9 1065.8,335.8 1067.8,335.5 1069.9,335.5 1071.9,335.6 1073.9,336.0 1075.9,336.2 1077.9,336.3 1079.9,336.6 1081.9,336.8 1083.9,337.2 1085.9,337.2 1087.9,337.1 1089.9,336.9 1091.9,336.9 1093.9,337.3 1095.9,337.8 1097.9,338.7 1099.9,339.3 1101.9,340.1 1103.9,340.1 1105.9,340.2 1107.9,340.4 1110.0,341.0 1112.0,341.6 1114.0,341.9 1116.0,341.9 1118.0,341.5 1120.0,341.0 1122.0,340.6 1124.0,340.4 1126.0,340.5 1128.0,340.5 1130.0,340.5 1132.0,340.3 1134.0,340.1 1136.0,339.9 1138.0,339.5 1140.0,339.2 1142.0,338.9 1144.0,338.6 1146.0,338.3 1148.0,338.2 1150.1,338.4 1152.1,338.5 1154.1,338.3 1156.1,338.1 1158.1,337.8 1160.1,337.6 1162.1,337.3 1164.1,336.9 1166.1,336.4 1168.1,336.0 1170.1,335.5 1172.1,335.4 1174.1,335.4 1176.1,335.8 1178.1,336.2 1180.1,337.0 1182.1,337.6 1184.1,338.0 1186.1,338.2" stroke="#9467bd" stroke-width="6.25" stroke-linecap="square" stroke-linejoin="round"/>
<line x1="748.8" y1="359.75" x2="748.8" y2="2.75" stroke="#1f77b4" stroke-width="4.17" stroke-dasharray="4.17 6.88"/>
<line x1="815.2" y1="359.75" x2="815.2" y2="2.75" stroke="#ff7f0e" stroke-width="4.17" stroke-dasharray="4.17 6.88"/>
<line x1="694.7" y1="359.75" x2="694.7" y2="2.75" stroke="#9467bd" stroke-width="4.17" stroke-dasharray="4.17 6.88"/>
</g>
<g clip-path="url(#cbl)" fill="none">
<polyline points="130.2,381.0 132.2,396.8 134.2,412.4 136.2,427.8 138.2,443.0 140.2,458.2 142.2,473.9 144.2,488.6 146.2,501.2 148.2,512.7 150.2,522.5 152.2,530.8 154.2,538.1 156.2,544.7 158.2,551.0 160.2,556.7 162.2,562.9 164.3,569.6 166.3,576.2 168.3,582.1 170.3,587.4 172.3,592.3 174.3,596.9 176.3,601.2 178.3,605.3 180.3,609.2 182.3,612.9 184.3,616.5 186.3,619.8 188.3,623.0 190.3,626.0 192.3,628.9 194.3,631.6 196.3,634.2 198.4,636.7 200.4,639.0 202.4,641.3 204.4,643.6 206.4,645.7 208.4,647.7 210.4,649.5 212.4,651.1 214.4,652.6 216.4,653.9 218.4,655.1 220.4,656.3 222.4,657.4 224.4,658.5 226.4,659.7 228.4,660.8 230.4,662.0 232.5,663.3 234.5,664.5 236.5,665.7 238.5,666.9 240.5,668.1 242.5,669.3 244.5,670.4 246.5,671.5 248.5,672.5 250.5,673.5 252.5,674.4 254.5,675.4 256.5,676.3 258.5,677.2 260.5,678.0 262.5,678.9 264.6,679.7 266.6,680.6 268.6,681.4 270.6,682.2 272.6,683.0 274.6,683.8 276.6,684.6 278.6,685.3 280.6,686.0 282.6,686.7 284.6,687.3 286.6,687.9 288.6,688.5 290.6,689.0 292.6,689.5 294.6,690.0 296.6,690.5 298.7,690.9 300.7,691.2 302.7,691.6 304.7,691.9 306.7,692.2 308.7,692.5 310.7,692.8 312.7,693.0 314.7,693.3 316.7,693.6 318.7,693.8 320.7,694.0 322.7,694.3 324.7,694.5 326.7,694.7 328.7,695.0 330.8,695.2 332.8,695.4 334.8,695.7 336.8,695.9 338.8,696.2 340.8,696.4 342.8,696.7 344.8,696.9 346.8,697.1 348.8,697.3 350.8,697.5 352.8,697.6 354.8,697.8 356.8,697.9 358.8,698.0 360.8,698.0 362.8,698.1 364.9,698.1 366.9,698.2 368.9,698.2 370.9,698.3 372.9,698.4 374.9,698.4 376.9,698.5 378.9,698.7 380.9,698.8 382.9,699.0 384.9,699.9 386.9,701.5 388.9,702.5 390.9,702.8 392.9,703.1 394.9,703.4 396.9,703.7 399.0,703.9 401.0,704.2 403.0,704.4 405.0,704.5 407.0,704.7 409.0,704.8 411.0,705.0 413.0,705.1 415.0,705.2 417.0,705.2 419.0,705.3 421.0,705.3 423.0,705.4 425.0,705.4 427.0,705.3 429.0,705.2 431.0,705.1 433.1,704.9 435.1,704.6 437.1,704.4 439.1,704.1 441.1,703.9 443.1,703.6 445.1,703.4 447.1,703.3 449.1,703.2 451.1,703.1 453.1,703.1 455.1,703.2 457.1,703.2 459.1,703.3 461.1,703.4 463.1,703.5 465.2,703.6 467.2,703.7 469.2,703.9 471.2,704.0 473.2,704.2 475.2,704.3 477.2,704.4 479.2,704.6 481.2,704.7 483.2,704.9 485.2,705.0 487.2,705.1 489.2,705.2 491.2,705.3 493.2,705.4 495.2,705.4 497.2,705.5 499.3,705.6 501.3,705.6 503.3,705.7 505.3,705.7 507.3,705.8 509.3,705.9 511.3,705.9 513.3,705.9 515.3,706.0 517.3,706.0 519.3,706.0 521.3,706.0 523.3,705.9 525.3,705.9 527.3,705.7 529.3,705.6 531.3,705.4 533.4,705.2 535.4,705.0 537.4,704.8 539.4,704.6 541.4,704.4 543.4,704.2 545.4,704.0 547.4,703.8 549.4,703.6 551.4,703.4 553.4,703.2 555.4,703.1 557.4,702.9 559.4,702.7 561.4,702.5 563.4,702.2 565.5,701.9 567.5,701.7 569.5,701.4 571.5,701.1 573.5,700.8 575.5,700.5 577.5,700.3 579.5,700.1 581.5,700.0 583.5,699.9 585.5,699.7 587.5,699.7 589.5,699.6 591.5,699.5 593.5,699.4 595.5,699.3 597.5,699.2 599.6,699.2 601.6,699.1 603.6,699.1 605.6,699.0 607.6,699.0 609.6,699.0 611.6,699.0 613.6,699.0 615.6,699.0 617.6,699.0 619.6,699.0 621.6,699.0 623.6,699.0 625.6,699.0 627.6,699.0 629.6,699.0" stroke="#1f77b4" stroke-width="6.25" stroke-dasharray="23.125 10" stroke-linejoin="round"/>
<polyline points="130.2,381.0 132.2,396.8 134.2,412.4 136.2,427.8 138.2,443.0 140.2,458.2 142.2,473.9 144.2,488.6 146.2,501.2 148.2,512.7 150.2,522.5 152.2,530.8 154.2,538.1 156.2,544.7 158.2,551.0 160.2,556.7 162.2,562.9 164.3,569.6 166.3,576.2 168.3,582.1 170.3,587.4 172.3,592.3 174.3,596.9 176.3,601.2 178.3,605.3 180.3,609.2 182.3,612.9 184.3,616.4 186.3,619.8 188.3,623.0 190.3,626.1 192.3,629.0 194.3,631.9 196.3,634.6 198.4,637.2 200.4,639.7 202.4,642.2 204.4,644.5 206.4,646.8 208.4,649.0 210.4,651.0 212.4,652.8 214.4,654.5 216.4,656.1 218.4,657.6 220.4,659.0 222.4,660.4 224.4,661.7 226.4,663.0 228.4,664.2 230.4,665.3 232.5,666.4 234.5,667.5 236.5,668.6 238.5,669.5 240.5,670.5 242.5,671.4 244.5,672.3 246.5,673.2 248.5,674.0 250.5,674.7 252.5,675.5 254.5,676.2 256.5,676.9 258.5,677.6 260.5,678.2 262.5,678.9 264.6,679.5 266.6,680.1 268.6,680.7 270.6,681.3 272.6,681.9 274.6,682.4 276.6,683.0 278.6,683.5 280.6,684.0 282.6,684.4 284.6,684.7 286.6,685.0 288.6,685.2 290.6,685.4 292.6,685.6 294.6,685.8 296.6,685.9 298.7,686.1 300.7,686.3 302.7,686.4 304.7,686.6 306.7,686.7 308.7,686.9 310.7,687.1 312.7,687.3 314.7,687.5 316.7,687.7 318.7,687.9 320.7,688.1 322.7,688.3 324.7,688.4 326.7,688.5 328.7,688.6 330.8,688.6 332.8,688.6 334.8,688.6 336.8,688.6 338.8,688.6 340.8,688.6 342.8,688.6 344.8,688.6 346.8,688.6 348.8,688.6 350.8,688.6 352.8,688.6 354.8,688.6 356.8,688.6 358.8,688.7 360.8,688.7 362.8,688.8 364.9,688.8 366.9,688.9 368.9,689.0 370.9,689.1 372.9,689.2 374.9,689.3 376.9,689.4 378.9,689.5 380.9,689.8 382.9,690.1 384.9,690.4 386.9,690.7 388.9,690.9 390.9,690.9 392.9,691.0 394.9,691.1 396.9,691.2 399.0,691.2 401.0,691.2 403.0,691.3 405.0,691.3 407.0,691.4 409.0,691.4 411.0,691.4 413.0,691.5 415.0,691.5 417.0,691.5 419.0,691.6 421.0,691.6 423.0,691.7 425.0,691.8 427.0,691.8 429.0,691.9 431.0,692.0 433.1,692.1 435.1,692.1 437.1,692.2 439.1,692.3 441.1,692.4 443.1,692.5 445.1,692.6 447.1,692.7 449.1,692.8 451.1,692.9 453.1,693.0 455.1,693.1 457.1,693.3 459.1,693.5 461.1,693.7 463.1,693.9 465.2,694.1 467.2,694.3 469.2,694.6 471.2,694.8 473.2,695.0 475.2,695.2 477.2,695.4 479.2,695.5 481.2,695.6 483.2,695.7 485.2,695.8 487.2,695.8 489.2,695.8 491.2,695.8 493.2,695.8 495.2,695.8 497.2,695.8 499.3,695.8 501.3,695.8 503.3,695.8 505.3,695.8 507.3,695.8 509.3,695.8 511.3,695.8 513.3,695.8 515.3,695.8 517.3,695.8 519.3,695.8 521.3,695.8 523.3,695.8 525.3,695.8 527.3,695.8 529.3,695.8 531.3,695.8 533.4,695.8 535.4,695.8 537.4,695.8 539.4,695.8 541.4,695.8 543.4,695.8 545.4,695.8 547.4,695.8 549.4,695.8 551.4,695.8 553.4,695.8 555.4,695.8 557.4,695.8 559.4,695.9 561.4,695.9 563.4,696.0 565.5,696.1 567.5,696.2 569.5,696.3 571.5,696.4 573.5,696.6 575.5,696.7 577.5,696.8 579.5,696.9 581.5,697.0 583.5,697.1 585.5,697.2 587.5,697.3 589.5,697.4 591.5,697.5 593.5,697.6 595.5,697.7 597.5,697.8 599.6,697.9 601.6,698.0 603.6,698.0 605.6,698.1 607.6,698.2 609.6,698.3 611.6,698.4 613.6,698.4 615.6,698.5 617.6,698.6 619.6,698.6 621.6,698.7 623.6,698.8 625.6,698.8 627.6,698.9 629.6,698.9" stroke="#ff7f0e" stroke-width="6.25" stroke-dasharray="23.125 10" stroke-linejoin="round"/>
<polyline points="130.2,381.0 132.2,451.0 134.2,505.9 136.2,542.7 138.2,566.6 140.2,584.5 142.2,600.4 144.2,613.9 146.2,625.8 148.2,634.4 150.2,640.7 152.2,645.7 154.2,650.0 156.2,653.7 158.2,656.9 160.2,659.8 162.2,662.2 164.3,664.4 166.3,666.4 168.3,668.1 170.3,669.2 172.3,670.1 174.3,670.9 176.3,672.0 178.3,673.8 180.3,676.4 182.3,679.0 184.3,681.3 186.3,682.5 188.3,683.4 190.3,683.9 192.3,684.5 194.3,684.8 196.3,685.1 198.4,685.3 200.4,685.5 202.4,685.9 204.4,686.3 206.4,687.0 208.4,687.4 210.4,688.1 212.4,688.5 214.4,688.7 216.4,688.7 218.4,688.6 220.4,688.9 222.4,689.2 224.4,689.6 226.4,689.9 228.4,689.8 230.4,689.3 232.5,688.8 234.5,688.8 236.5,689.2 238.5,689.5 240.5,690.0 242.5,690.4 244.5,691.0 246.5,691.5 248.5,691.8 250.5,692.1 252.5,692.2 254.5,692.3 256.5,692.3 258.5,692.5 260.5,692.9 262.5,693.3 264.6,693.6 266.6,694.0 268.6,694.2 270.6,694.4 272.6,694.4 274.6,694.5 276.6,694.7 278.6,694.8 280.6,695.2 282.6,695.8 284.6,696.6 286.6,696.9 288.6,697.2 290.6,696.8 292.6,696.5 294.6,695.9 296.6,695.9 298.7,696.2 300.7,696.4 302.7,696.4 304.7,695.8 306.7,695.5 308.7,695.0 310.7,694.3 312.7,693.6 314.7,693.0 316.7,692.8 318.7,692.5 320.7,692.6 322.7,692.5 324.7,692.7 326.7,692.4 328.7,692.5 330.8,692.7 332.8,693.4 334.8,693.8 336.8,693.9 338.8,693.7 340.8,693.5 342.8,693.2 344.8,693.0 346.8,693.1 348.8,693.9 350.8,695.0 352.8,696.2 354.8,696.5 356.8,696.2 358.8,695.7 360.8,695.4 362.8,695.3 364.9,695.2 366.9,695.3 368.9,695.4 370.9,695.5 372.9,695.0 374.9,694.6 376.9,694.2 378.9,694.5 380.9,694.6 382.9,694.5 384.9,694.1 386.9,693.9 388.9,694.2 390.9,694.7 392.9,695.2 394.9,695.7 396.9,696.1 399.0,696.2 401.0,696.1 403.0,696.4 405.0,696.8 407.0,697.4 409.0,697.4 411.0,697.3 413.0,696.7 415.0,696.5 417.0,696.5 419.0,696.6 421.0,696.4 423.0,696.0 425.0,695.7 427.0,695.7 429.0,695.7 431.0,695.9 433.1,696.4 435.1,696.9 437.1,697.2 439.1,697.1 441.1,696.8 443.1,696.8 445.1,697.1 447.1,697.6 449.1,697.7 451.1,697.5 453.1,697.3 455.1,697.1 457.1,696.8 459.1,696.1 461.1,695.4 463.1,695.2 465.2,695.3 467.2,695.7 469.2,695.9 471.2,696.2 473.2,696.3 475.2,696.7 477.2,696.8 479.2,696.8 481.2,696.6 483.2,696.7 485.2,697.0 487.2,697.5 489.2,697.5 491.2,697.6 493.2,697.2 495.2,697.4 497.2,697.7 499.3,698.3 501.3,698.8 503.3,698.8 505.3,698.5 507.3,698.4 509.3,698.8 511.3,699.2 513.3,699.7 515.3,700.0 517.3,700.1 519.3,699.8 521.3,699.2 523.3,698.9 525.3,698.6 527.3,698.5 529.3,698.2 531.3,698.2 533.4,698.4 535.4,698.9 537.4,699.2 539.4,699.3 541.4,699.6 543.4,700.0 545.4,700.5 547.4,700.6 549.4,700.5 551.4,700.1 553.4,699.9 555.4,700.3 557.4,701.3 559.4,702.2 561.4,702.4 563.4,702.4 565.5,702.5 567.5,702.8 569.5,703.4 571.5,703.7 573.5,704.0 575.5,703.8 577.5,703.4 579.5,703.3 581.5,703.5 583.5,704.0 585.5,703.9 587.5,703.7 589.5,703.7 591.5,703.7 593.5,703.8 595.5,703.7 597.5,703.8 599.6,704.0 601.6,704.1 603.6,703.9 605.6,703.6 607.6,703.0 609.6,702.7 611.6,702.4 613.6,702.5 615.6,702.8 617.6,703.2 619.6,703.4 621.6,703.1 623.6,702.7 625.6,702.0 627.6,701.5 629.6,700.9" stroke="#d62728" stroke-width="6.25" stroke-linecap="square" stroke-linejoin="round"/>
<polyline points="130.2,381.0 132.2,451.0 134.2,505.9 136.2,542.7 138.2,566.6 140.2,584.5 142.2,600.4 144.2,613.9 146.2,625.8 148.2,634.4 150.2,640.7 152.2,645.7 154.2,650.0 156.2,653.7 158.2,656.9 160.2,659.7 162.2,662.2 164.3,664.6 166.3,666.6 168.3,668.0 170.3,669.2 172.3,670.2 174.3,671.3 176.3,672.7 178.3,674.6 180.3,676.7 182.3,678.5 184.3,679.6 186.3,680.2 188.3,680.3 190.3,680.5 192.3,680.7 194.3,681.1 196.3,681.6 198.4,682.0 200.4,682.4 202.4,682.7 204.4,682.9 206.4,683.0 208.4,683.1 210.4,683.0 212.4,682.8 214.4,682.6 216.4,682.8 218.4,683.3 220.4,683.4 222.4,683.6 224.4,683.7 226.4,684.3 228.4,684.1 230.4,684.2 232.5,683.9 234.5,684.0 236.5,683.8 238.5,684.0 240.5,684.5 242.5,685.1 244.5,685.5 246.5,685.6 248.5,685.7 250.5,685.9 252.5,686.6 254.5,687.4 256.5,688.1 258.5,689.0 260.5,689.8 262.5,690.9 264.6,691.6 266.6,692.5 268.6,692.9 270.6,692.8 272.6,692.4 274.6,692.0 276.6,691.8 278.6,691.2 280.6,690.9 282.6,690.9 284.6,691.3 286.6,691.7 288.6,692.2 290.6,692.8 292.6,693.2 294.6,693.1 296.6,693.2 298.7,693.5 300.7,694.4 302.7,695.1 304.7,695.2 306.7,695.1 308.7,695.2 310.7,695.7 312.7,696.0 314.7,696.1 316.7,696.1 318.7,696.2 320.7,696.7 322.7,697.1 324.7,697.5 326.7,697.8 328.7,698.2 330.8,698.5 332.8,698.7 334.8,698.8 336.8,698.8 338.8,699.2 340.8,699.7 342.8,699.8 344.8,699.6 346.8,699.1 348.8,699.3 350.8,699.4 352.8,699.7 354.8,699.4 356.8,699.1 358.8,698.5 360.8,698.0 362.8,697.4 364.9,697.1 366.9,697.1 368.9,696.7 370.9,696.2 372.9,696.0 374.9,696.3 376.9,696.8 378.9,697.2 380.9,697.4 382.9,697.7 384.9,698.0 386.9,698.2 388.9,698.5 390.9,698.8 392.9,698.8 394.9,698.7 396.9,698.5 399.0,698.7 401.0,699.1 403.0,699.6 405.0,700.2 407.0,700.3 409.0,700.2 411.0,700.3 413.0,700.7 415.0,701.2 417.0,701.0 419.0,700.7 421.0,700.4 423.0,700.4 425.0,700.7 427.0,701.4 429.0,702.1 431.0,702.7 433.1,702.8 435.1,703.0 437.1,703.1 439.1,703.2 441.1,702.9 443.1,702.9 445.1,702.9 447.1,703.1 449.1,703.1 451.1,702.8 453.1,702.7 455.1,702.1 457.1,701.3 459.1,700.1 461.1,699.0 463.1,698.4 465.2,698.5 467.2,699.0 469.2,699.2 471.2,699.6 473.2,699.6 475.2,699.9 477.2,700.2 479.2,700.8 481.2,701.4 483.2,701.8 485.2,702.3 487.2,702.9 489.2,703.3 491.2,703.3 493.2,703.0 495.2,703.0 497.2,703.3 499.3,703.5 501.3,703.2 503.3,702.9 505.3,702.5 507.3,702.6 509.3,702.8 511.3,703.1 513.3,703.3 515.3,703.2 517.3,702.8 519.3,702.5 521.3,702.3 523.3,702.3 525.3,702.3 527.3,702.5 529.3,702.6 531.3,702.2 533.4,702.1 535.4,701.7 537.4,701.9 539.4,701.9 541.4,702.3 543.4,702.0 545.4,701.5 547.4,700.8 549.4,700.4 551.4,699.8 553.4,699.5 555.4,699.7 557.4,700.4 559.4,701.1 561.4,701.1 563.4,700.7 565.5,700.4 567.5,700.4 569.5,700.8 571.5,701.2 573.5,701.5 575.5,701.4 577.5,701.3 579.5,701.0 581.5,701.1 583.5,701.1 585.5,700.9 587.5,700.5 589.5,699.6 591.5,698.8 593.5,697.9 595.5,697.4 597.5,697.0 599.6,696.8 601.6,696.7 603.6,697.2 605.6,698.0 607.6,699.0 609.6,699.8 611.6,700.5 613.6,700.9 615.6,701.0 617.6,700.5 619.6,699.9 621.6,699.6 623.6,699.3 625.6,699.3 627.6,699.3 629.6,699.2" stroke="#9467bd" stroke-width="6.25" stroke-linecap="square" stroke-linejoin="round"/>
<line x1="168.2" y1="721.8" x2="168.2" y2="364.85" stroke="#1f77b4" stroke-width="4.17" stroke-dasharray="4.17 6.88"/>
<line x1="168.0" y1="721.8" x2="168.0" y2="364.85" stroke="#ff7f0e" stroke-width="4.17" stroke-dasharray="4.17 6.88"/>
<line x1="139.9" y1="721.8" x2="139.9" y2="364.85" stroke="#9467bd" stroke-width="4.17" stroke-dasharray="4.17 6.88"/>
</g>
<g clip-path="url(#cbr)" fill="none">
<polyline points="686.9,381.0 688.9,398.0 690.9,416.3 692.9,436.9 694.9,456.8 696.9,472.3 698.9,486.4 700.9,501.0 702.9,515.3 704.9,526.7 706.9,536.1 709.0,544.3 711.0,551.2 713.0,557.2 715.0,564.2 717.0,572.0 719.0,579.1 721.0,585.2 723.0,590.7 725.0,595.9 727.0,600.9 729.0,605.7 731.0,610.3 733.0,614.9 735.0,619.2 737.0,623.1 739.0,626.6 741.0,629.8 743.0,632.7 745.0,635.5 747.0,638.1 749.1,640.6 751.1,642.9 753.1,645.1 755.1,647.3 757.1,649.3 759.1,651.1 761.1,652.8 763.1,654.2 765.1,655.6 767.1,656.9 769.1,658.1 771.1,659.2 773.1,660.3 775.1,661.3 777.1,662.3 779.1,663.3 781.1,664.2 783.1,665.1 785.1,666.0 787.1,666.9 789.2,667.8 791.2,668.6 793.2,669.4 795.2,670.2 797.2,670.9 799.2,671.6 801.2,672.2 803.2,672.8 805.2,673.4 807.2,674.0 809.2,674.5 811.2,675.0 813.2,675.5 815.2,676.0 817.2,676.5 819.2,676.9 821.2,677.3 823.2,677.8 825.2,678.2 827.2,678.6 829.3,679.0 831.3,679.3 833.3,679.7 835.3,680.1 837.3,680.4 839.3,680.8 841.3,681.1 843.3,681.4 845.3,681.8 847.3,682.1 849.3,682.4 851.3,682.7 853.3,683.0 855.3,683.3 857.3,683.6 859.3,683.9 861.3,684.2 863.3,684.5 865.3,684.7 867.3,685.0 869.4,685.2 871.4,685.4 873.4,685.6 875.4,685.8 877.4,685.9 879.4,686.0 881.4,686.1 883.4,686.3 885.4,686.5 887.4,686.9 889.4,687.4 891.4,687.9 893.4,688.5 895.4,689.0 897.4,689.5 899.4,689.9 901.4,690.4 903.4,690.8 905.4,691.2 907.4,691.7 909.5,692.1 911.5,692.5 913.5,693.0 915.5,693.4 917.5,693.8 919.5,694.2 921.5,694.7 923.5,695.1 925.5,695.5 927.5,695.9 929.5,696.3 931.5,696.7 933.5,697.1 935.5,697.4 937.5,697.7 939.5,698.0 941.5,698.4 943.5,698.7 945.5,699.0 947.5,699.4 949.6,699.7 951.6,700.0 953.6,700.3 955.6,700.6 957.6,700.9 959.6,701.2 961.6,701.4 963.6,701.6 965.6,701.7 967.6,701.8 969.6,701.9 971.6,701.9 973.6,701.8 975.6,701.6 977.6,701.4 979.6,701.2 981.6,700.9 983.6,700.6 985.6,700.3 987.6,700.0 989.7,699.7 991.7,699.5 993.7,699.3 995.7,699.1 997.7,699.0 999.7,698.9 1001.7,698.9 1003.7,698.8 1005.7,698.8 1007.7,698.7 1009.7,698.7 1011.7,698.6 1013.7,698.6 1015.7,698.6 1017.7,698.5 1019.7,698.5 1021.7,698.5 1023.7,698.5 1025.7,698.4 1027.8,698.4 1029.8,698.4 1031.8,698.4 1033.8,698.4 1035.8,698.4 1037.8,698.4 1039.8,698.4 1041.8,698.5 1043.8,698.6 1045.8,698.7 1047.8,698.9 1049.8,699.1 1051.8,699.3 1053.8,699.6 1055.8,699.8 1057.8,700.1 1059.8,700.4 1061.8,700.6 1063.8,700.9 1065.8,701.2 1067.8,701.4 1069.9,701.7 1071.9,701.9 1073.9,702.1 1075.9,702.4 1077.9,702.7 1079.9,702.9 1081.9,703.2 1083.9,703.5 1085.9,703.8 1087.9,704.1 1089.9,704.3 1091.9,704.6 1093.9,704.8 1095.9,705.0 1097.9,705.1 1099.9,705.3 1101.9,705.3 1103.9,705.4 1105.9,705.3 1107.9,705.3 1110.0,705.2 1112.0,705.1 1114.0,705.0 1116.0,704.9 1118.0,704.7 1120.0,704.6 1122.0,704.4 1124.0,704.2 1126.0,704.0 1128.0,703.8 1130.0,703.5 1132.0,703.3 1134.0,703.1 1136.0,702.8 1138.0,702.6 1140.0,702.4 1142.0,702.2 1144.0,701.9 1146.0,701.7 1148.0,701.5 1150.1,701.2 1152.1,700.9 1154.1,700.5 1156.1,700.2 1158.1,699.9 1160.1,699.6 1162.1,699.4 1164.1,699.2 1166.1,699.0 1168.1,699.0 1170.1,699.0 1172.1,699.0 1174.1,699.0 1176.1,699.0 1178.1,699.0 1180.1,699.0 1182.1,699.0 1184.1,699.0 1186.1,699.0" stroke="#1f77b4" stroke-width="6.25" stroke-dasharray="23.125 10" stroke-linejoin="round"/>
<polyline points="686.9,381.0 688.9,398.0 690.9,416.3 692.9,436.9 694.9,456.8 696.9,472.3 698.9,486.4 700.9,501.0 702.9,515.3 704.9,526.7 706.9,536.1 709.0,544.3 711.0,551.2 713.0,557.1 715.0,564.4 717.0,572.7 719.0,580.3 721.0,586.8 723.0,592.8 725.0,598.4 727.0,603.8 729.0,608.9 731.0,613.8 733.0,618.6 735.0,623.1 737.0,627.3 739.0,631.2 741.0,634.8 743.0,638.2 745.0,641.4 747.0,644.5 749.1,647.4 751.1,650.1 753.1,652.8 755.1,655.4 757.1,657.8 759.1,660.1 761.1,662.1 763.1,664.0 765.1,665.7 767.1,667.3 769.1,668.9 771.1,670.3 773.1,671.6 775.1,672.9 777.1,674.0 779.1,675.1 781.1,676.1 783.1,677.0 785.1,677.9 787.1,678.8 789.2,679.5 791.2,680.3 793.2,680.9 795.2,681.6 797.2,682.2 799.2,682.9 801.2,683.5 803.2,684.1 805.2,684.6 807.2,685.0 809.2,685.3 811.2,685.6 813.2,685.8 815.2,685.9 817.2,686.0 819.2,686.1 821.2,686.2 823.2,686.3 825.2,686.4 827.2,686.5 829.3,686.5 831.3,686.6 833.3,686.7 835.3,686.7 837.3,686.8 839.3,686.8 841.3,686.9 843.3,686.9 845.3,686.9 847.3,687.0 849.3,687.0 851.3,687.0 853.3,687.0 855.3,687.1 857.3,687.1 859.3,687.2 861.3,687.2 863.3,687.3 865.3,687.4 867.3,687.4 869.4,687.5 871.4,687.6 873.4,687.8 875.4,687.9 877.4,688.0 879.4,688.2 881.4,688.3 883.4,688.5 885.4,688.6 887.4,688.8 889.4,689.1 891.4,689.4 893.4,689.6 895.4,689.9 897.4,690.2 899.4,690.4 901.4,690.6 903.4,690.8 905.4,691.0 907.4,691.2 909.5,691.5 911.5,691.7 913.5,691.9 915.5,692.0 917.5,692.2 919.5,692.4 921.5,692.5 923.5,692.7 925.5,692.8 927.5,692.9 929.5,692.9 931.5,693.0 933.5,693.0 935.5,693.0 937.5,693.0 939.5,693.0 941.5,693.0 943.5,693.0 945.5,693.0 947.5,693.0 949.6,693.0 951.6,693.0 953.6,693.0 955.6,693.0 957.6,693.0 959.6,693.0 961.6,693.0 963.6,693.0 965.6,693.0 967.6,693.0 969.6,693.0 971.6,693.0 973.6,693.0 975.6,693.0 977.6,693.0 979.6,693.0 981.6,693.0 983.6,693.0 985.6,693.0 987.6,693.0 989.7,693.0 991.7,693.0 993.7,693.0 995.7,693.0 997.7,693.0 999.7,693.0 1001.7,693.0 1003.7,693.0 1005.7,693.0 1007.7,693.0 1009.7,693.0 1011.7,693.0 1013.7,693.0 1015.7,693.0 1017.7,693.0 1019.7,693.0 1021.7,693.0 1023.7,693.0 1025.7,693.0 1027.8,693.0 1029.8,693.0 1031.8,693.0 1033.8,693.0 1035.8,693.0 1037.8,693.0 1039.8,693.0 1041.8,693.0 1043.8,693.0 1045.8,693.0 1047.8,693.1 1049.8,693.1 1051.8,693.1 1053.8,693.2 1055.8,693.2 1057.8,693.3 1059.8,693.3 1061.8,693.4 1063.8,693.5 1065.8,693.5 1067.8,693.6 1069.9,693.7 1071.9,694.0 1073.9,694.3 1075.9,694.7 1077.9,695.1 1079.9,695.6 1081.9,696.0 1083.9,696.5 1085.9,697.0 1087.9,697.4 1089.9,697.8 1091.9,698.3 1093.9,698.7 1095.9,699.2 1097.9,699.7 1099.9,700.1 1101.9,700.6 1103.9,700.9 1105.9,701.3 1107.9,701.5 1110.0,701.8 1112.0,702.0 1114.0,702.2 1116.0,702.4 1118.0,702.6 1120.0,702.8 1122.0,702.9 1124.0,703.0 1126.0,703.1 1128.0,703.1 1130.0,703.1 1132.0,703.1 1134.0,703.1 1136.0,703.0 1138.0,703.0 1140.0,702.9 1142.0,702.8 1144.0,702.8 1146.0,702.7 1148.0,702.6 1150.1,702.5 1152.1,702.4 1154.1,702.3 1156.1,702.2 1158.1,702.0 1160.1,701.9 1162.1,701.8 1164.1,701.6 1166.1,701.5 1168.1,701.3 1170.1,701.1 1172.1,700.8 1174.1,700.6 1176.1,700.3 1178.1,700.0 1180.1,699.7 1182.1,699.4 1184.1,699.0 1186.1,698.7" stroke="#ff7f0e" stroke-width="6.25" stroke-dasharray="23.125 10" stroke-linejoin="round"/>
<polyline points="686.9,381.0 688.9,501.8 690.9,554.3 692.9,576.0 694.9,595.5 696.9,616.4 698.9,631.7 700.9,643.3 702.9,652.1 704.9,658.8 706.9,664.2 709.0,668.7 711.0,672.5 713.0,675.8 715.0,678.6 717.0,680.9 719.0,682.9 721.0,684.5 723.0,685.9 725.0,687.2 727.0,688.4 729.0,689.4 731.0,690.2 733.0,691.1 735.0,691.8 737.0,692.5 739.0,692.6 741.0,692.4 743.0,692.6 745.0,693.5 747.0,695.0 749.1,696.0 751.1,696.4 753.1,696.3 755.1,695.8 757.1,695.3 759.1,694.7 761.1,694.0 763.1,693.0 765.1,692.3 767.1,692.1 769.1,692.4 771.1,692.6 773.1,692.7 775.1,692.6 777.1,692.7 779.1,693.0 781.1,693.0 783.1,692.7 785.1,692.2 787.1,692.0 789.2,692.5 791.2,693.0 793.2,694.0 795.2,694.6 797.2,695.1 799.2,695.7 801.2,696.0 803.2,696.1 805.2,696.2 807.2,696.5 809.2,696.8 811.2,696.7 813.2,696.7 815.2,696.7 817.2,696.8 819.2,696.5 821.2,695.9 823.2,695.5 825.2,695.7 827.2,696.4 829.3,697.0 831.3,697.0 833.3,697.1 835.3,697.2 837.3,697.6 839.3,697.4 841.3,697.2 843.3,697.2 845.3,697.4 847.3,697.7 849.3,698.1 851.3,698.5 853.3,698.3 855.3,698.1 857.3,698.1 859.3,698.5 861.3,698.8 863.3,698.7 865.3,698.8 867.3,698.9 869.4,699.2 871.4,699.0 873.4,699.2 875.4,699.1 877.4,699.1 879.4,698.8 881.4,698.6 883.4,698.6 885.4,698.8 887.4,699.1 889.4,699.0 891.4,698.9 893.4,698.7 895.4,699.1 897.4,699.1 899.4,699.3 901.4,699.0 903.4,699.1 905.4,699.4 907.4,699.9 909.5,700.0 911.5,700.3 913.5,700.7 915.5,701.1 917.5,700.9 919.5,700.4 921.5,699.6 923.5,699.4 925.5,699.4 927.5,699.4 929.5,699.2 931.5,699.0 933.5,698.7 935.5,698.4 937.5,698.1 939.5,697.9 941.5,697.9 943.5,697.8 945.5,698.0 947.5,698.3 949.6,698.8 951.6,698.8 953.6,698.6 955.6,698.2 957.6,698.2 959.6,698.6 961.6,698.9 963.6,699.4 965.6,699.6 967.6,700.0 969.6,700.1 971.6,700.3 973.6,700.5 975.6,700.9 977.6,701.3 979.6,701.6 981.6,701.5 983.6,701.3 985.6,701.2 987.6,701.5 989.7,701.8 991.7,701.9 993.7,701.7 995.7,701.3 997.7,701.1 999.7,701.2 1001.7,701.5 1003.7,701.5 1005.7,701.4 1007.7,701.2 1009.7,701.9 1011.7,702.5 1013.7,702.8 1015.7,702.4 1017.7,701.5 1019.7,700.6 1021.7,699.8 1023.7,699.7 1025.7,699.7 1027.8,700.0 1029.8,700.0 1031.8,700.2 1033.8,700.1 1035.8,699.9 1037.8,699.4 1039.8,698.9 1041.8,698.5 1043.8,698.7 1045.8,698.9 1047.8,698.7 1049.8,697.6 1051.8,696.6 1053.8,696.1 1055.8,695.8 1057.8,695.3 1059.8,694.6 1061.8,693.8 1063.8,693.1 1065.8,692.7 1067.8,692.6 1069.9,693.0 1071.9,693.4 1073.9,693.7 1075.9,694.2 1077.9,694.6 1079.9,695.4 1081.9,695.8 1083.9,696.4 1085.9,696.9 1087.9,697.7 1089.9,698.6 1091.9,699.4 1093.9,700.0 1095.9,700.4 1097.9,700.8 1099.9,701.0 1101.9,701.0 1103.9,701.1 1105.9,701.1 1107.9,700.9 1110.0,700.4 1112.0,699.9 1114.0,699.5 1116.0,699.2 1118.0,698.9 1120.0,698.6 1122.0,698.6 1124.0,698.6 1126.0,698.6 1128.0,698.5 1130.0,698.4 1132.0,698.3 1134.0,698.2 1136.0,697.8 1138.0,697.5 1140.0,697.3 1142.0,697.8 1144.0,698.1 1146.0,698.2 1148.0,697.9 1150.1,697.7 1152.1,697.9 1154.1,698.1 1156.1,698.4 1158.1,698.5 1160.1,698.7 1162.1,698.6 1164.1,698.6 1166.1,698.4 1168.1,698.7 1170.1,699.2 1172.1,699.8 1174.1,700.0 1176.1,699.9 1178.1,699.7 1180.1,699.5 1182.1,699.7 1184.1,699.9 1186.1,699.9" stroke="#d62728" stroke-width="6.25" stroke-linecap="square" stroke-linejoin="round"/>
<polyline points="686.9,381.0 688.9,501.8 690.9,554.3 692.9,576.0 694.9,595.5 696.9,616.4 698.9,631.7 700.9,643.3 702.9,652.1 704.9,658.8 706.9,664.2 709.0,668.7 711.0,672.5 713.0,675.8 715.0,678.6 717.0,680.9 719.0,683.0 721.0,684.8 723.0,686.2 725.0,687.1 727.0,688.1 729.0,688.9 731.0,689.6 733.0,690.0 735.0,690.5 737.0,691.3 739.0,692.1 741.0,692.9 743.0,693.6 745.0,694.6 747.0,695.2 749.1,695.4 751.1,694.8 753.1,694.4 755.1,694.2 757.1,694.5 759.1,694.6 761.1,694.8 763.1,694.6 765.1,694.4 767.1,694.3 769.1,694.1 771.1,693.9 773.1,693.3 775.1,692.6 777.1,692.3 779.1,692.4 781.1,692.9 783.1,693.1 785.1,693.0 787.1,692.5 789.2,692.1 791.2,692.0 793.2,692.3 795.2,692.7 797.2,693.1 799.2,693.7 801.2,694.0 803.2,694.2 805.2,694.2 807.2,694.7 809.2,695.0 811.2,695.1 813.2,694.9 815.2,694.9 817.2,695.4 819.2,695.9 821.2,696.1 823.2,695.8 825.2,695.6 827.2,695.6 829.3,695.8 831.3,695.9 833.3,696.2 835.3,696.3 837.3,696.4 839.3,696.5 841.3,696.4 843.3,696.4 845.3,696.3 847.3,696.6 849.3,696.9 851.3,697.1 853.3,697.1 855.3,697.4 857.3,697.7 859.3,697.8 861.3,697.7 863.3,697.6 865.3,697.9 867.3,698.0 869.4,697.9 871.4,697.3 873.4,697.0 875.4,696.7 877.4,696.7 879.4,696.3 881.4,696.2 883.4,696.1 885.4,696.5 887.4,696.7 889.4,696.7 891.4,696.7 893.4,696.7 895.4,697.0 897.4,697.5 899.4,698.0 901.4,698.6 903.4,698.9 905.4,699.3 907.4,699.5 909.5,699.9 911.5,700.1 913.5,700.4 915.5,700.4 917.5,700.8 919.5,701.5 921.5,702.4 923.5,703.0 925.5,703.0 927.5,702.9 929.5,702.4 931.5,701.7 933.5,701.1 935.5,700.6 937.5,699.8 939.5,699.1 941.5,698.8 943.5,698.7 945.5,698.4 947.5,697.8 949.6,697.4 951.6,697.7 953.6,698.0 955.6,698.1 957.6,698.0 959.6,697.7 961.6,697.8 963.6,697.4 965.6,697.3 967.6,696.9 969.6,697.3 971.6,697.5 973.6,697.4 975.6,696.9 977.6,696.6 979.6,696.5 981.6,696.8 983.6,697.0 985.6,697.1 987.6,697.1 989.7,697.0 991.7,697.1 993.7,697.2 995.7,697.3 997.7,697.4 999.7,697.4 1001.7,697.6 1003.7,697.9 1005.7,698.2 1007.7,698.4 1009.7,698.0 1011.7,697.8 1013.7,697.6 1015.7,698.0 1017.7,698.3 1019.7,698.6 1021.7,698.4 1023.7,697.9 1025.7,697.4 1027.8,697.5 1029.8,697.9 1031.8,698.2 1033.8,698.1 1035.8,697.6 1037.8,697.2 1039.8,697.1 1041.8,697.0 1043.8,696.7 1045.8,696.0 1047.8,695.1 1049.8,694.7 1051.8,694.7 1053.8,694.7 1055.8,694.2 1057.8,693.3 1059.8,692.6 1061.8,692.4 1063.8,693.0 1065.8,694.0 1067.8,694.9 1069.9,695.7 1071.9,696.0 1073.9,696.5 1075.9,696.5 1077.9,696.5 1079.9,696.2 1081.9,696.0 1083.9,696.0 1085.9,696.1 1087.9,696.3 1089.9,696.5 1091.9,696.7 1093.9,696.9 1095.9,696.9 1097.9,696.9 1099.9,696.7 1101.9,696.9 1103.9,697.0 1105.9,696.9 1107.9,696.6 1110.0,696.2 1112.0,695.8 1114.0,695.5 1116.0,695.2 1118.0,694.9 1120.0,694.8 1122.0,694.8 1124.0,694.5 1126.0,694.3 1128.0,694.0 1130.0,694.1 1132.0,693.9 1134.0,693.9 1136.0,694.1 1138.0,694.4 1140.0,694.6 1142.0,694.4 1144.0,694.5 1146.0,694.3 1148.0,694.5 1150.1,694.4 1152.1,694.4 1154.1,694.3 1156.1,694.4 1158.1,694.6 1160.1,695.1 1162.1,695.4 1164.1,695.7 1166.1,696.2 1168.1,696.8 1170.1,697.3 1172.1,697.8 1174.1,698.0 1176.1,698.0 1178.1,697.8 1180.1,697.7 1182.1,697.8 1184.1,697.7 1186.1,697.5" stroke="#9467bd" stroke-width="6.25" stroke-linecap="square" stroke-linejoin="round"/>
<line x1="718.8" y1="721.8" x2="718.8" y2="364.85" stroke="#1f77b4" stroke-width="4.17" stroke-dasharray="4.17 6.88"/>
<line x1="718.6" y1="721.8" x2="718.6" y2="364.85" stroke="#ff7f0e" stroke-width="4.17" stroke-dasharray="4.17 6.88"/>
<line x1="694.7" y1="721.8" x2="694.7" y2="364.85" stroke="#9467bd" stroke-width="4.17" stroke-dasharray="4.17 6.88"/>
</g>
<rect x="105.0" y="2.75" width="549.6" height="357.0" fill="none" stroke="#000" stroke-width="3.15"/>
<rect x="661.7" y="2.75" width="549.6499999999999" height="357.0" fill="none" stroke="#000" stroke-width="3.15"/>
<rect x="105.0" y="364.85" width="549.6" height="356.94999999999993" fill="none" stroke="#000" stroke-width="3.15"/>
<rect x="661.7" y="364.85" width="549.6499999999999" height="356.94999999999993" fill="none" stroke="#000" stroke-width="3.15"/>
<path d="M90.8 340.7H103.9 M90.8 276.3H103.9 M90.8 211.9H103.9 M90.8 147.5H103.9 M90.8 83.1H103.9 M90.8 18.7H103.9 M90.8 699.0H103.9 M90.8 635.4H103.9 M90.8 571.8H103.9 M90.8 508.2H103.9 M90.8 444.6H103.9 M90.8 381.0H103.9 M130.2 722.9V736.0 M230.4 722.9V736.0 M330.8 722.9V736.0 M431.0 722.9V736.0 M531.3 722.9V736.0 M631.6 722.9V736.0 M686.9 722.9V736.0 M787.1 722.9V736.0 M887.4 722.9V736.0 M987.6 722.9V736.0 M1087.9 722.9V736.0 M1188.2 722.9V736.0 M130.2 359.8V364.9 M230.4 359.8V364.9 M330.8 359.8V364.9 M431.0 359.8V364.9 M531.3 359.8V364.9 M631.6 359.8V364.9 M686.9 359.8V364.9 M787.1 359.8V364.9 M887.4 359.8V364.9 M987.6 359.8V364.9 M1087.9 359.8V364.9 M1188.2 359.8V364.9 M657.2 340.7H660.7 M657.2 276.3H660.7 M657.2 211.9H660.7 M657.2 147.5H660.7 M657.2 83.1H660.7 M657.2 18.7H660.7 M657.2 699.0H660.7 M657.2 635.4H660.7 M657.2 571.8H660.7 M657.2 508.2H660.7 M657.2 444.6H660.7 M657.2 381.0H660.7" stroke="#000" stroke-width="3.15" fill="none"/>
<path d="M348.3 139.3H370.8M381.4 139.3H389.9" stroke="#1f77b4" stroke-width="6.1" fill="none"/>
<path d="M348.3 169.9H370.8M381.4 169.9H389.9" stroke="#ff7f0e" stroke-width="6.1" fill="none"/>
<path d="M345.0 200.5H392.9" stroke="#d62728" stroke-width="6.1" fill="none"/>
<path d="M345.0 231.5H392.9" stroke="#9467bd" stroke-width="6.1" fill="none"/>
<g style="opacity:0.999">
<text transform="matrix(1.0188 0 0 1 42.52 349.15)" font-size="23.1">0.0</text>
<text transform="matrix(1.0270 0 0 1 42.51 284.75)" font-size="23.1">0.2</text>
<text transform="matrix(1.0082 0 0 1 42.53 220.35)" font-size="23.1">0.4</text>
<text transform="matrix(1.0211 0 0 1 42.52 155.95)" font-size="23.1">0.6</text>
<text transform="matrix(1.0209 0 0 1 42.52 91.55)" font-size="23.1">0.8</text>
<text transform="matrix(0.9996 0 0 1 43.12 27.15)" font-size="23.1">1.0</text>
<text transform="matrix(1.0188 0 0 1 42.52 707.45)" font-size="23.1">0.0</text>
<text transform="matrix(1.0270 0 0 1 42.51 643.85)" font-size="23.1">0.2</text>
<text transform="matrix(1.0082 0 0 1 42.53 580.25)" font-size="23.1">0.4</text>
<text transform="matrix(1.0211 0 0 1 42.52 516.65)" font-size="23.1">0.6</text>
<text transform="matrix(1.0209 0 0 1 42.52 453.05)" font-size="23.1">0.8</text>
<text transform="matrix(0.9996 0 0 1 43.12 389.45)" font-size="23.1">1.0</text>
<text transform="matrix(0.9924 0 0 1 123.79 767.50)" font-size="23.1">0</text>
<text transform="matrix(1.0075 0 0 1 217.39 767.50)" font-size="23.1">50</text>
<text transform="matrix(1.0119 0 0 1 310.84 767.50)" font-size="23.1">100</text>
<text transform="matrix(1.0119 0 0 1 411.14 767.50)" font-size="23.1">150</text>
<text transform="matrix(1.0147 0 0 1 511.69 767.50)" font-size="23.1">200</text>
<text transform="matrix(1.0147 0 0 1 611.99 767.50)" font-size="23.1">250</text>
<text transform="matrix(0.9924 0 0 1 680.54 767.50)" font-size="23.1">0</text>
<text transform="matrix(1.0075 0 0 1 774.09 767.50)" font-size="23.1">50</text>
<text transform="matrix(1.0119 0 0 1 867.49 767.50)" font-size="23.1">100</text>
<text transform="matrix(1.0119 0 0 1 967.74 767.50)" font-size="23.1">150</text>
<text transform="matrix(1.0147 0 0 1 1068.24 767.50)" font-size="23.1">200</text>
<text transform="matrix(1.0147 0 0 1 1168.49 767.50)" font-size="23.1">250</text>
<text transform="matrix(1.0328 0 0 1 362.04 48.60)" font-size="21.9">LiCl</text>
<text transform="matrix(1.0663 0 0 1 927.88 49.40)" font-size="21.9">LiI</text>
<text transform="matrix(0.9889 0 0 1 361.32 428.00)" font-size="21.9">NaCl</text>
<text transform="matrix(0.9947 0 0 1 929.91 428.70)" font-size="21.9">NaI</text>
<text transform="matrix(1.0800 0 0 1 405.98 146.10)" font-size="21.9">random</text>
<text transform="matrix(1.1268 0 0 1 493.89 146.10)" font-size="21.9">uniform</text>
<text transform="matrix(0.9428 0 0 1 584.13 146.10)" font-size="21.9">1</text>
<text transform="matrix(1.0800 0 0 1 405.98 176.80)" font-size="21.9">random</text>
<text transform="matrix(1.1268 0 0 1 493.89 176.80)" font-size="21.9">uniform</text>
<text transform="matrix(0.9598 0 0 1 584.28 176.80)" font-size="21.9">2</text>
<text transform="matrix(0.9894 0 0 1 406.52 207.60)" font-size="21.9">ML</text>
<text transform="matrix(0.8793 0 0 1 444.63 207.60)" font-size="21.9">1</text>
<text transform="matrix(0.9894 0 0 1 406.52 238.30)" font-size="21.9">ML</text>
<text transform="matrix(0.9093 0 0 1 444.54 238.30)" font-size="21.9">2</text>
<text transform="matrix(1.3000 0 0 1 234.73 809.70)" font-size="30.0" font-style="italic">τ</text>
<text transform="matrix(1.1433 0 0 1 260.45 809.70)" font-size="30.0">[number</text>
<text transform="matrix(1.1652 0 0 1 394.79 809.70)" font-size="30.0">of</text>
<text transform="matrix(1.1218 0 0 1 432.83 809.70)" font-size="30.0">steps]</text>
<text transform="matrix(1.3000 0 0 1 791.33 809.70)" font-size="30.0" font-style="italic">τ</text>
<text transform="matrix(1.1433 0 0 1 817.05 809.70)" font-size="30.0">[number</text>
<text transform="matrix(1.1652 0 0 1 951.39 809.70)" font-size="30.0">of</text>
<text transform="matrix(1.1218 0 0 1 989.43 809.70)" font-size="30.0">steps]</text>
<text transform="matrix(0 -1.0173 1 0 17.00 196.41)" font-size="30.0" font-style="italic">ρ</text>
<text transform="matrix(0 -1.2899 1 0 21.60 178.27)" font-size="21.0" font-style="italic">τ</text>
<text transform="matrix(0 -1.0173 1 0 17.00 558.41)" font-size="30.0" font-style="italic">ρ</text>
<text transform="matrix(0 -1.2899 1 0 21.60 540.27)" font-size="21.0" font-style="italic">τ</text>
</g>
</svg></body></html>
